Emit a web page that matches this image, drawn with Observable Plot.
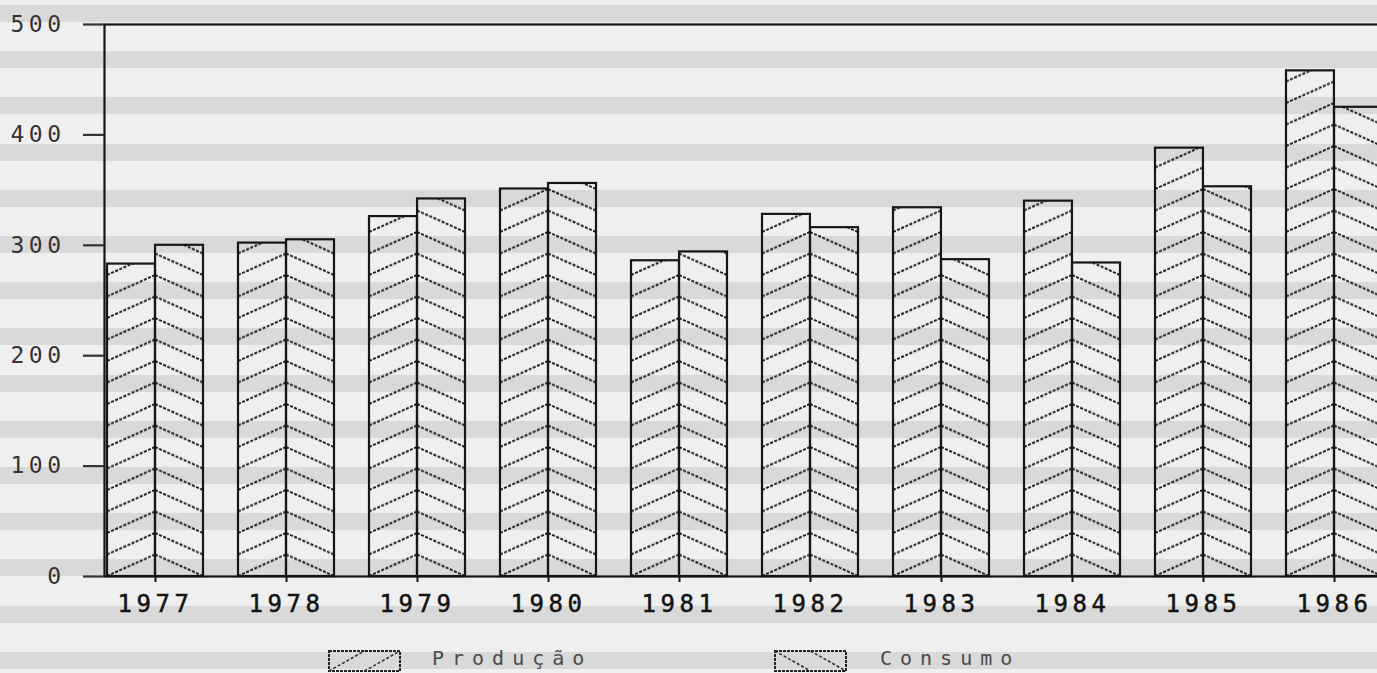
<!DOCTYPE html>
<html>
<head>
<meta charset="utf-8">
<script src="https://cdn.jsdelivr.net/npm/d3@7"></script>
<script src="https://cdn.jsdelivr.net/npm/@observablehq/plot@0.6"></script>
<style>
  html, body { margin: 0; padding: 0; width: 1377px; height: 673px; overflow: hidden; }
  body {
    position: relative;
    font-family: "DejaVu Sans Mono", monospace;
    background: repeating-linear-gradient(180deg,
      #efefef 0px, #efefef 5px,
      #d9d9d9 5px, #d9d9d9 22px,
      #efefef 22px, #efefef 46.2px);
  }
  #chart { position: absolute; left: 0; top: 0; }
  #chart svg text { letter-spacing: 4.5px; }
  #chart svg g[aria-label="x-axis tick label"] text { letter-spacing: 4.5px; stroke: #141414; stroke-width: 0.5px; }
  .legend { position: absolute; left: 0; top: 650px; width: 1377px; height: 23px; }
  .sw { position: absolute; top: 0; }
  .tx { position: absolute; top: -4px; font-size: 20px; letter-spacing: 8px; color: #4a4a4a; white-space: pre; }
</style>
</head>
<body>
<div id="chart"></div>
<div class="legend" id="legend"></div>
<script>
// ---- data ----
const years = [1977, 1978, 1979, 1980, 1981, 1982, 1983, 1984, 1985, 1986];
const producao = [283, 302, 326, 351, 286, 328, 334, 340, 388, 458];
const consumo = [300, 305, 342, 356, 294, 316, 287, 284, 353, 425];
const yTicks = [0, 100, 200, 300, 400, 500];
const seriesNames = ["Produção", "Consumo"];

// ---- layout ----
const W = 1440, H = 640;
const mL = 104, mR = 55, mT = 24, mB = 64;
const hatchGap = 21.5;

const rows = years.map((year, i) => ({year, producao: producao[i], consumo: consumo[i]}));
const band = d3.scaleBand(years, [mL, W - mR]).paddingInner(0.27).paddingOuter(0);
const half = band.bandwidth() / 2;

const plot = Plot.plot({
  width: W,
  height: H,
  marginLeft: mL,
  marginRight: mR,
  marginTop: mT,
  marginBottom: mB,
  style: {background: "transparent", maxWidth: "none", fontFamily: "'DejaVu Sans Mono', monospace", fontSize: "22px"},
  x: {type: "band", domain: years, paddingInner: 0.27, paddingOuter: 0, label: null},
  y: {domain: [0, 500], label: null},
  marks: [
    Plot.barY(rows, {x: "year", y: "producao", fill: "url(#hatchP)", stroke: "#161616", strokeWidth: 2.2, insetRight: half}),
    Plot.barY(rows, {x: "year", y: "consumo", fill: "url(#hatchC)", stroke: "#161616", strokeWidth: 2.2, insetLeft: half}),
    Plot.frame({stroke: "#161616", strokeWidth: 2.2}),
    Plot.axisY({ticks: yTicks, tickSize: 21, tickPadding: 18, fontSize: 23, color: "#333", strokeWidth: 2.2, label: null}),
    Plot.axisX({tickSize: 6, tickPadding: 12, fontSize: 24, color: "#141414", strokeWidth: 2, tickFormat: d => String(d), label: null})
  ]
});

// hatch patterns aligned to the library's scales
const sx = plot.scale("x"), sy = plot.scale("y");
const x0 = sx.apply(years[0]);
const step = sx.step, bw = sx.bandwidth;
const y0 = sy.apply(0);
const svg = d3.select(plot);
const defs = svg.insert("defs", ":first-child");
function makePattern(id, rising) {
  const p = defs.append("pattern")
    .attr("id", id)
    .attr("patternUnits", "userSpaceOnUse")
    .attr("x", x0).attr("y", y0)
    .attr("width", step).attr("height", hatchGap);
  for (const k of [-1, 0, 1]) {
    const off = k * hatchGap;
    const l = p.append("line")
      .attr("stroke", "#1e1e1e").attr("stroke-width", 2)
      .attr("stroke-dasharray", "3 1.5");
    if (rising) l.attr("x1", 0).attr("y1", hatchGap + off).attr("x2", bw / 2).attr("y2", off);
    else l.attr("x1", bw / 2).attr("y1", off).attr("x2", bw).attr("y2", hatchGap + off);
  }
}
makePattern("hatchP", true);
makePattern("hatchC", false);
document.getElementById("chart").appendChild(plot);

// ---- legend ----
const legend = d3.select("#legend");
const items = [
  {name: seriesNames[0], sw: 328, tx: 432, rising: true},
  {name: seriesNames[1], sw: 774, tx: 880, rising: false}
];
for (const it of items) {
  const s = legend.append("svg").attr("class", "sw")
    .style("left", it.sw + "px").attr("width", 74).attr("height", 23);
  s.append("rect").attr("x", 1).attr("y", 1).attr("width", 71).attr("height", 20)
    .attr("fill", "none").attr("stroke", "#222").attr("stroke-width", 2).attr("stroke-dasharray", "3 1");
  for (const k of [0, 1]) {
    const a = 1 + k * 35.5, b = a + 35.5;
    const l = s.append("line").attr("stroke", "#333").attr("stroke-width", 1.6).attr("stroke-dasharray", "3 2");
    if (it.rising) l.attr("x1", a).attr("y1", 21).attr("x2", b).attr("y2", 1);
    else l.attr("x1", a).attr("y1", 1).attr("x2", b).attr("y2", 21);
  }
  legend.append("div").attr("class", "tx").style("left", it.tx + "px").text(it.name);
}
</script>
</body>
</html>
